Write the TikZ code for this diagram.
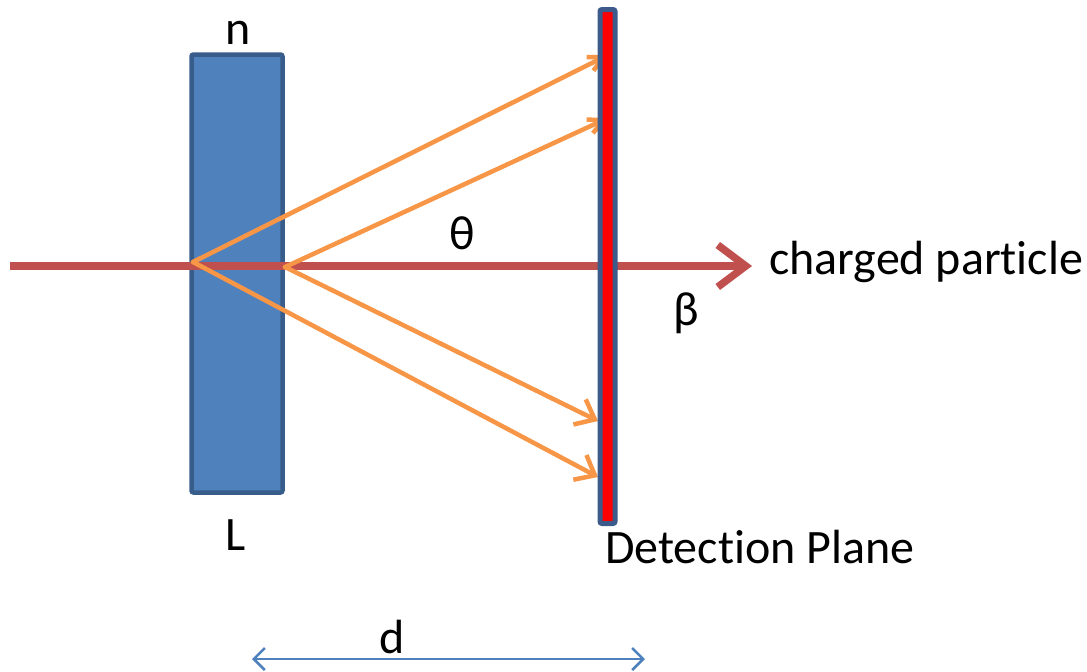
\documentclass[tikz,border=0pt]{standalone}
\usepackage{fontspec}
\setmainfont{Carlito}[Ligatures=NoCommon]
\usetikzlibrary{arrows.meta}
\definecolor{slabfill}{HTML}{4F81BD}
\definecolor{slabedge}{HTML}{385D8A}
\definecolor{beam}{HTML}{C0504D}
\definecolor{ray}{HTML}{F79646}
\definecolor{planeedge}{HTML}{3C5A8A}
\tikzset{
  lbl/.style={font=\fontsize{48}{56}\selectfont, inner sep=0pt},
  raystyle/.style={draw=ray, line width=4.5pt, line cap=round, -{Straight Barb[length=17pt,width=28pt,line width=4.5pt]}},
  raytop/.style={draw=ray, line width=4.5pt, line cap=round, -{Straight Barb[length=15pt,width=15pt,line width=4.5pt]}},
}
\begin{document}
\begin{tikzpicture}[x=1pt,y=-1pt]
\useasboundingbox (0,0) rectangle (1087,672);
% slab
\node[draw=slabedge, fill=slabfill, line width=4.5pt, rounded corners=2pt, minimum width=91pt, minimum height=438pt, inner sep=0pt] (slab) at (237,273.5) {};
% vertices
\coordinate (v1) at (193,262);
\coordinate (v2) at (285,267);
\coordinate (t1) at (608,55);
\coordinate (t2) at (608,118);
\coordinate (b1) at (598,421);
\coordinate (b2) at (598,477);
% beam
\coordinate (bs) at (10,266);
\coordinate (be) at (752,266);
\draw[draw=beam, line width=8pt, -{Straight Barb[length=28pt,width=42pt,line width=7.5pt]}] (bs) -- (be);
% rays
\draw[raytop] (v1) -- (t1);
\draw[raytop] (v2) -- (t2);
\draw[raystyle] (v2) -- (b1);
\draw[raystyle] (v1) -- (b2);
% detection plane
\node[draw=planeedge, fill=red, line width=5pt, rounded corners=2pt, minimum width=15pt, minimum height=514pt, inner sep=0pt] (plane) at (607.5,266.5) {};
% labels
\node[lbl] (n) at (238,33) {n};
\node[lbl] (L) at (236,535) {L};
\node[lbl] (theta) at (462,233) {θ};
\node[lbl] (beta) at (686,313) {β};
\node[lbl, anchor=west] (cp) at (769,262) {charged particle};
\node[lbl, anchor=west] (dp) at (605,547) {Detection Plane};
\node[lbl] (d) at (392,637) {d};
% d arrow
\coordinate (dl) at (252,659);
\coordinate (dr) at (645,659);
\draw[draw=slabfill, line width=2.5pt, {Straight Barb[length=11pt,width=22pt,line width=2.5pt]}-{Straight Barb[length=11pt,width=22pt,line width=2.5pt]}] (dl) -- (dr);
\end{tikzpicture}
\end{document}
